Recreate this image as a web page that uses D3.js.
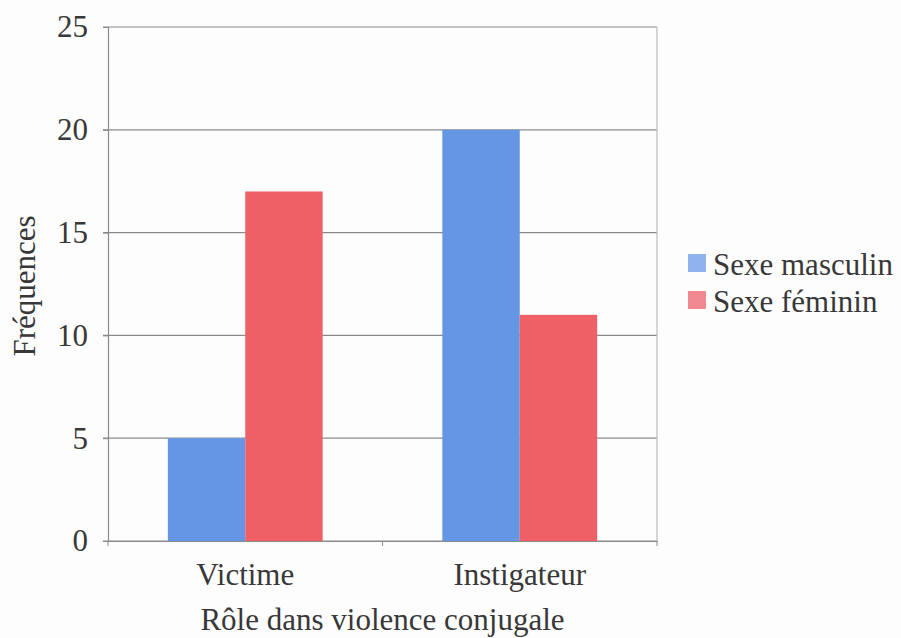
<!DOCTYPE html>
<html><head><meta charset="utf-8">
<script src="https://cdn.jsdelivr.net/npm/d3@7"></script>
<style>body{margin:0;background:#fdfdfd}text{font-family:"Liberation Serif","DejaVu Serif",serif;fill:#383838}</style>
</head><body>
<svg id="chart" width="901" height="638"></svg>
<script>
const categories = ["Victime", "Instigateur"];
const seriesNames = ["Sexe masculin", "Sexe féminin"];
const masculin = [5, 20];
const feminin = [17, 11];
const yTicks = [0, 5, 10, 15, 20, 25];
const barColors = ["#6596e4", "#ee5f66"];
const legendColors = ["#8eb3ee", "#f08990"];

const svg = d3.select("#chart");
const m = {left: 108, right: 657, top: 27, bottom: 541};
const fontSize = 31;
const fontFam = '"Liberation Serif", serif';

const x0 = d3.scaleBand().domain(categories).range([m.left, m.right]).padding(0);
const x1 = d3.scaleBand().domain(seriesNames)
  .range([x0.bandwidth() * 0.218, x0.bandwidth() * 0.782]).padding(0);
const y = d3.scaleLinear().domain([0, 25]).range([m.bottom, m.top]);

// horizontal grid
svg.append("g").selectAll("line").data(yTicks).join("line")
  .attr("x1", m.left - 5).attr("x2", m.right)
  .attr("y1", d => y(d)).attr("y2", d => y(d))
  .attr("stroke", "#8a8a8a").attr("stroke-width", 1.2);

// right frame edge
svg.append("line").attr("x1", m.right).attr("x2", m.right)
  .attr("y1", m.top).attr("y2", m.bottom)
  .attr("stroke", "#bdbdbd").attr("stroke-width", 1.2);

// bars
const rows = categories.map((c, i) => ({cat: c, vals: [masculin[i], feminin[i]]}));
const groups = svg.append("g").selectAll("g").data(rows).join("g")
  .attr("transform", d => `translate(${x0(d.cat)},0)`);
groups.selectAll("rect").data(d => d.vals.map((v, j) => ({s: seriesNames[j], v, j})))
  .join("rect")
  .attr("x", d => x1(d.s)).attr("width", x1.bandwidth())
  .attr("y", d => y(d.v)).attr("height", d => y(0) - y(d.v))
  .attr("fill", d => barColors[d.j]);

// y axis
const yAxis = svg.append("g").attr("transform", `translate(${m.left},0)`)
  .call(d3.axisLeft(y).tickValues(yTicks).tickSize(5).tickPadding(15));
yAxis.select(".domain").attr("stroke", "#8a8a8a").attr("stroke-width", 1.2);
yAxis.selectAll(".tick line").attr("stroke", "#8a8a8a");
yAxis.selectAll(".tick text").attr("font-size", fontSize).attr("fill", "#383838")
  .style("font-family", fontFam);

// x axis
const xAxis = svg.append("g").attr("transform", `translate(0,${m.bottom})`)
  .call(d3.axisBottom(x0).tickSize(0));
xAxis.select(".domain").attr("stroke", "#8a8a8a").attr("stroke-width", 1.2);
xAxis.selectAll(".tick text").attr("y", 44).attr("dy", 0)
  .attr("font-size", fontSize).attr("fill", "#383838")
  .style("font-family", fontFam);
// category dividers
svg.append("g").selectAll("line").data([m.left, x0("Instigateur"), m.right]).join("line")
  .attr("x1", d => d).attr("x2", d => d)
  .attr("y1", m.bottom).attr("y2", m.bottom + 5)
  .attr("stroke", "#8a8a8a");

// axis titles
svg.append("text").attr("x", (m.left + m.right) / 2).attr("y", 630)
  .attr("text-anchor", "middle").attr("font-size", fontSize).text("Rôle dans violence conjugale");
svg.append("text").attr("transform", "translate(35,286) rotate(-90)")
  .attr("text-anchor", "middle").attr("font-size", fontSize).text("Fréquences");

// legend
const leg = svg.append("g").selectAll("g").data(seriesNames).join("g")
  .attr("transform", (d, i) => `translate(688,${254 + i * 37})`);
leg.append("rect").attr("width", 18).attr("height", 18)
  .attr("fill", (d, i) => legendColors[i]);
leg.append("text").attr("x", 25).attr("y", 21).attr("font-size", fontSize).text(d => d);
</script>
</body></html>
